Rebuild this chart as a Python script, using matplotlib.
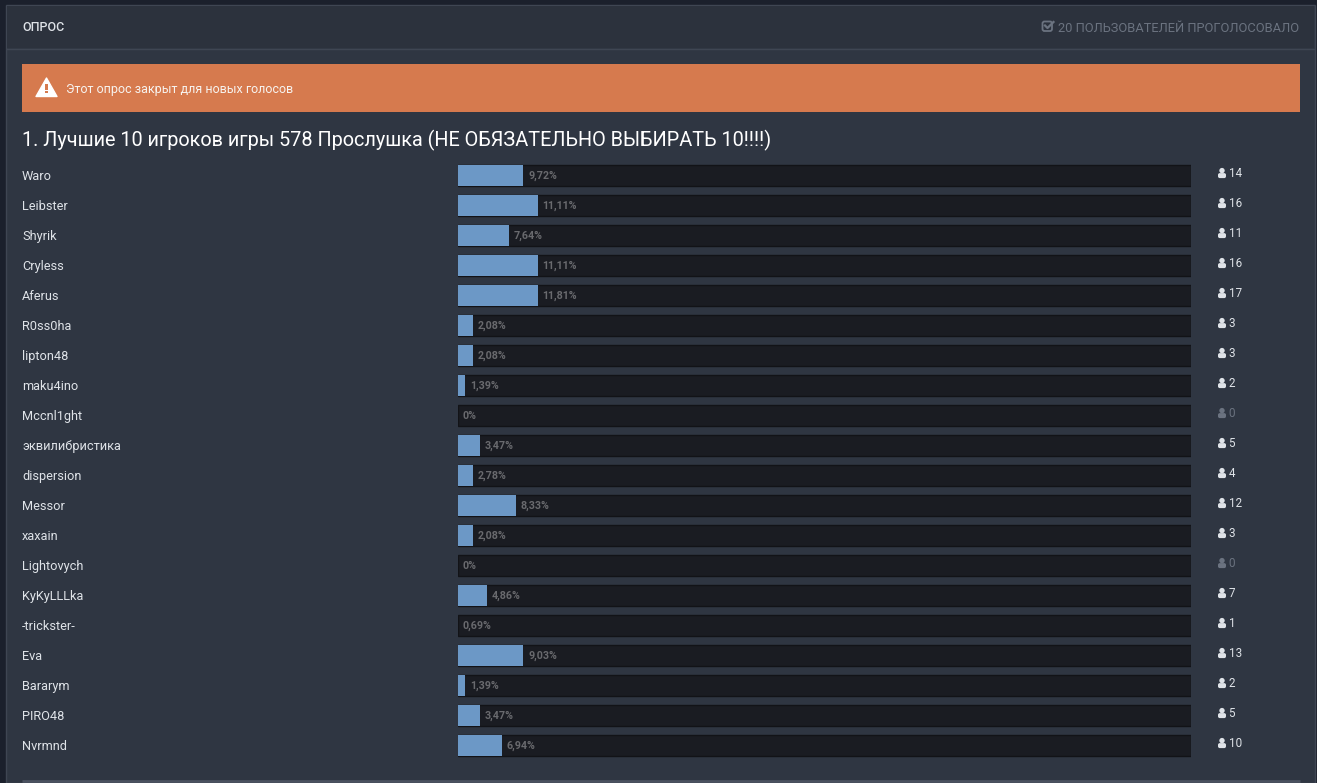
#!/usr/bin/env python3
"""Closed poll results panel (dark forum theme). Writes out.png."""
import matplotlib
matplotlib.use("Agg")
import matplotlib.pyplot as plt
from matplotlib.patches import Circle, FancyBboxPatch, Polygon, Rectangle

OUTER = "#1b202c"
PANEL = "#2f3642"
HEADER = "#2c323d"
RULE = "#3f4653"
ALERT = "#d67a4e"
TRACK = "#1a1c22"
TRACK_EDGE = "#121317"
FILL = "#6c98c6"
TEXT = "#dfe3e8"
MUTED = "#6b7380"
PCT = "#696a6e"

plt.rcParams["font.family"] = ["Roboto", "DejaVu Sans"]

PLAYERS = ["Waro", "Leibster", "Shyrik", "Cryless", "Aferus", "R0ss0ha", "lipton48",
           "maku4ino", "Mccnl1ght", "эквилибристика", "dispersion", "Messor", "xaxain",
           "Lightovych", "KyKyLLLka", "-trickster-", "Eva", "Bararym", "PIRO48", "Nvrmnd"]
PCT_LABELS = ["9,72%", "11,11%", "7,64%", "11,11%", "11,81%", "2,08%", "2,08%", "1,39%",
              "0%", "3,47%", "2,78%", "8,33%", "2,08%", "0%", "4,86%", "0,69%", "9,03%",
              "1,39%", "3,47%", "6,94%"]
# drawn bar length, % of track (the page truncates to whole percent)
BAR_PCT = [9, 11, 7, 11, 11, 2, 2, 1, 0, 3, 2, 8, 2, 0, 4, 0, 9, 1, 3, 6]
VOTES = [14, 16, 11, 16, 17, 3, 3, 2, 0, 5, 4, 12, 3, 0, 7, 1, 13, 2, 5, 10]

W, H = 1317, 783
TRACK_MAX = 101.1  # the dark track runs a little past 100% of the fill scale

fig = plt.figure(figsize=(W / 100, H / 100), dpi=100, facecolor=OUTER)

# page chrome, in pixel coordinates
bg = fig.add_axes([0, 0, 1, 1])
bg.set_xlim(0, W)
bg.set_ylim(H, 0)
bg.axis("off")

bg.add_patch(Rectangle((6, 5), 1309, 778, fc=PANEL, ec=RULE, lw=1))
bg.add_patch(Rectangle((7, 6), 1307, 42, fc=HEADER, ec="none"))
bg.plot([7, 1314], [48.5, 48.5], color=RULE, lw=1)
bg.text(22, 27.5, "ОПРОС", color=TEXT, fontsize=9, fontweight="medium", va="center")
bg.text(1299.5, 28, "20 ПОЛЬЗОВАТЕЛЕЙ ПРОГОЛОСОВАЛО", color=MUTED, fontsize=9.28,
        ha="right", va="center")
# check-square icon
bg.add_patch(FancyBboxPatch((1042.5, 21.5), 9.5, 9.5, boxstyle="round,pad=0,rounding_size=2",
                            fc="none", ec=MUTED, lw=1.3))
bg.plot([1045, 1047.5, 1053.5], [25.5, 28, 22], color=MUTED, lw=1.6)

bg.add_patch(Rectangle((22, 64), 1278, 48, fc=ALERT, ec="none"))
bg.add_patch(Polygon([(46.5, 78), (36, 96.5), (57, 96.5)], closed=True, fc="white",
                     ec="white", lw=1, joinstyle="round"))
bg.add_patch(Rectangle((45.4, 83.5), 2.2, 6, fc=ALERT, ec="none"))
bg.add_patch(Rectangle((45.4, 91), 2.2, 2.4, fc=ALERT, ec="none"))
bg.text(66, 89, "Этот опрос закрыт для новых голосов", color="#f7f3ef", fontsize=9.0,
        va="center")

bg.text(22, 140, "1. Лучшие 10 игроков игры 578 Прослушка (НЕ ОБЯЗАТЕЛЬНО ВЫБИРАТЬ 10!!!!)",
        color="white", fontsize=14.3, va="center")
bg.plot([22, 1300], [780.5, 780.5], color="#4b5260", lw=2, solid_capstyle="butt")

# bars: x axis is percent of track
TOP, BOTTOM = 160.5, 760.5
ax = fig.add_axes([458 / W, 1 - BOTTOM / H, (1191 - 458) / W, (BOTTOM - TOP) / H])
ax.set_xlim(0, TRACK_MAX)
ax.set_ylim(len(PLAYERS) - 0.5, -0.5)
ax.axis("off")
ax.patch.set_alpha(0)

rows = list(range(len(PLAYERS)))
ax.barh(rows, [TRACK_MAX] * len(rows), height=0.68, color=TRACK, edgecolor=TRACK_EDGE, lw=1, zorder=1)
ax.barh(rows, BAR_PCT, height=0.68, color=FILL, edgecolor="none", zorder=2)

for i in rows:
    y_px = 175.5 + 30 * i
    ax.annotate(PCT_LABELS[i], (BAR_PCT[i], i), xytext=(3.5, -0.5), textcoords="offset points",
                color=PCT, fontsize=7.7, fontweight="bold", va="center", zorder=3)
    bg.text(22, y_px + 0.7, PLAYERS[i], color=TEXT, fontsize=9.2, va="center")
    col = MUTED if VOTES[i] == 0 else TEXT
    y_v = y_px - 2.5
    bg.add_patch(Circle((1222, y_v - 2.4), 2.7, fc=col, ec="none"))
    bg.add_patch(FancyBboxPatch((1218, y_v + 0.1), 8, 5, boxstyle="round,pad=0,rounding_size=1.8",
                                fc=col, ec="none"))
    bg.text(1228.5, y_v + 0.7, str(VOTES[i]), color=col, fontsize=8.4, va="center")

fig.savefig("out.png", dpi=100, facecolor=OUTER)
